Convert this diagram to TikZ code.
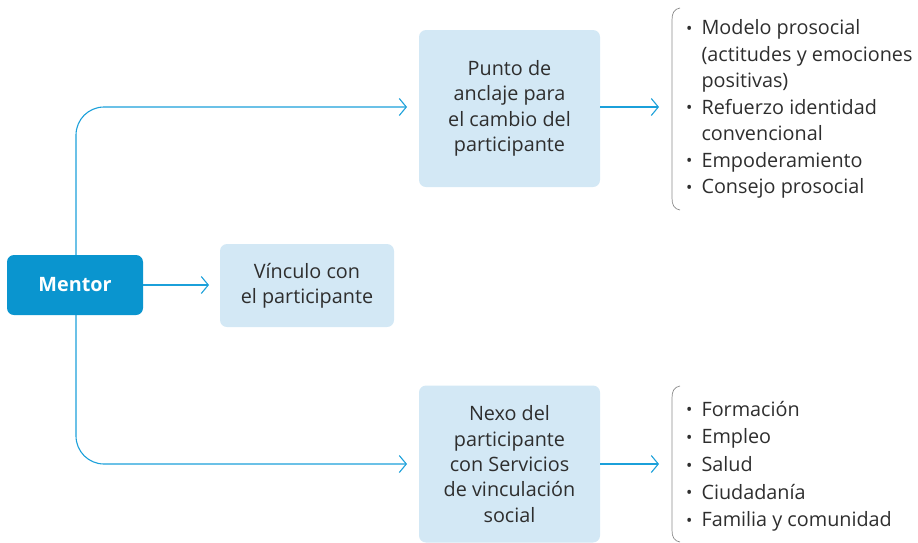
\documentclass[tikz,border=0pt]{standalone}
\usepackage{fontspec}
\setmainfont{Open Sans}
\usetikzlibrary{arrows.meta}
\definecolor{mentorblue}{HTML}{0A95CF}
\definecolor{lineblue}{HTML}{1BA0DA}
\definecolor{lightbox}{HTML}{D3E8F5}
\definecolor{txt}{HTML}{2E2E2E}
\definecolor{brk}{HTML}{8A8A8A}
\tikzset{
  conn/.style={draw=lineblue, line width=1.1pt, -{Straight Barb[length=7pt,width=17pt,line width=1.1pt]}},
  lbox/.style={fill=lightbox, rounded corners=7pt, text=txt, align=center, inner sep=0pt, font=\fontsize{19.8}{25.4}\selectfont},
  mbox/.style={fill=mentorblue, rounded corners=7pt, text=white, font=\fontsize{19.8}{22}\selectfont\bfseries, inner sep=0pt},
  blist/.style={text=txt, align=left, inner sep=0pt, anchor=west},
  brace/.style={draw=brk, line width=0.7pt}
}
\newcommand{\bul}{\raisebox{0.5pt}{\scalebox{0.85}{•}}}
\begin{document}
\begin{tikzpicture}[x=1pt,y=-1pt]
\useasboundingbox (0,0) rectangle (918,542);
\node[mbox, minimum width=136pt, minimum height=60pt] (mentor) at (75,285) {Mentor};
\node[lbox, minimum width=174pt, minimum height=83pt] (vinc) at (307,285.5) {Vínculo con\\el participante};
\node[lbox, minimum width=181pt, minimum height=157pt] (punto) at (509.5,108.5) {Punto de\\anclaje para\\el cambio del\\participante};
\node[lbox, minimum width=181pt, minimum height=157pt] (nexo) at (509.5,464) {Nexo del\\participante\\con Servicios\\de vinculación\\social};
% lists
\node[blist, font=\fontsize{19.8}{26.5}\selectfont] (l1) at (686,109) {%
\begin{tabular}{@{}l@{\hspace{9pt}}l@{}}
\bul & Modelo prosocial\\
  & (actitudes y emociones\\
  & positivas)\\
\bul & Refuerzo identidad\\
  & convencional\\
\bul & Empoderamiento\\
\bul & Consejo prosocial
\end{tabular}};
\node[blist, font=\fontsize{19.8}{27.7}\selectfont] (l2) at (686,466) {%
\begin{tabular}{@{}l@{\hspace{9pt}}l@{}}
\bul & Formación\\
\bul & Empleo\\
\bul & Salud\\
\bul & Ciudadanía\\
\bul & Familia y comunidad
\end{tabular}};
% brackets
\draw[brace] (680,8) .. controls (674,9) and (672,13) .. (672,20) -- (672,198) .. controls (672,205) and (674,209) .. (680,210);
\draw[brace] (680,386) .. controls (674,387) and (672,391) .. (672,398) -- (672,530) .. controls (672,537) and (674,541) .. (680,542);
% connectors
\coordinate (c1) at (407,107);
\coordinate (c2) at (407,464);
\coordinate (c3) at (659,107);
\coordinate (c4) at (659,464);
\coordinate (c5) at (209,285);
\draw[conn, rounded corners=28pt] (mentor.north -| 76,0) -- (76,107) -- (c1);
\draw[conn, rounded corners=28pt] (mentor.south -| 76,0) -- (76,464) -- (c2);
\draw[conn] (mentor.east) -- (c5);
\draw[conn] (punto.east |- c3) -- (c3);
\draw[conn] (nexo.east |- c4) -- (c4);
\end{tikzpicture}
\end{document}
